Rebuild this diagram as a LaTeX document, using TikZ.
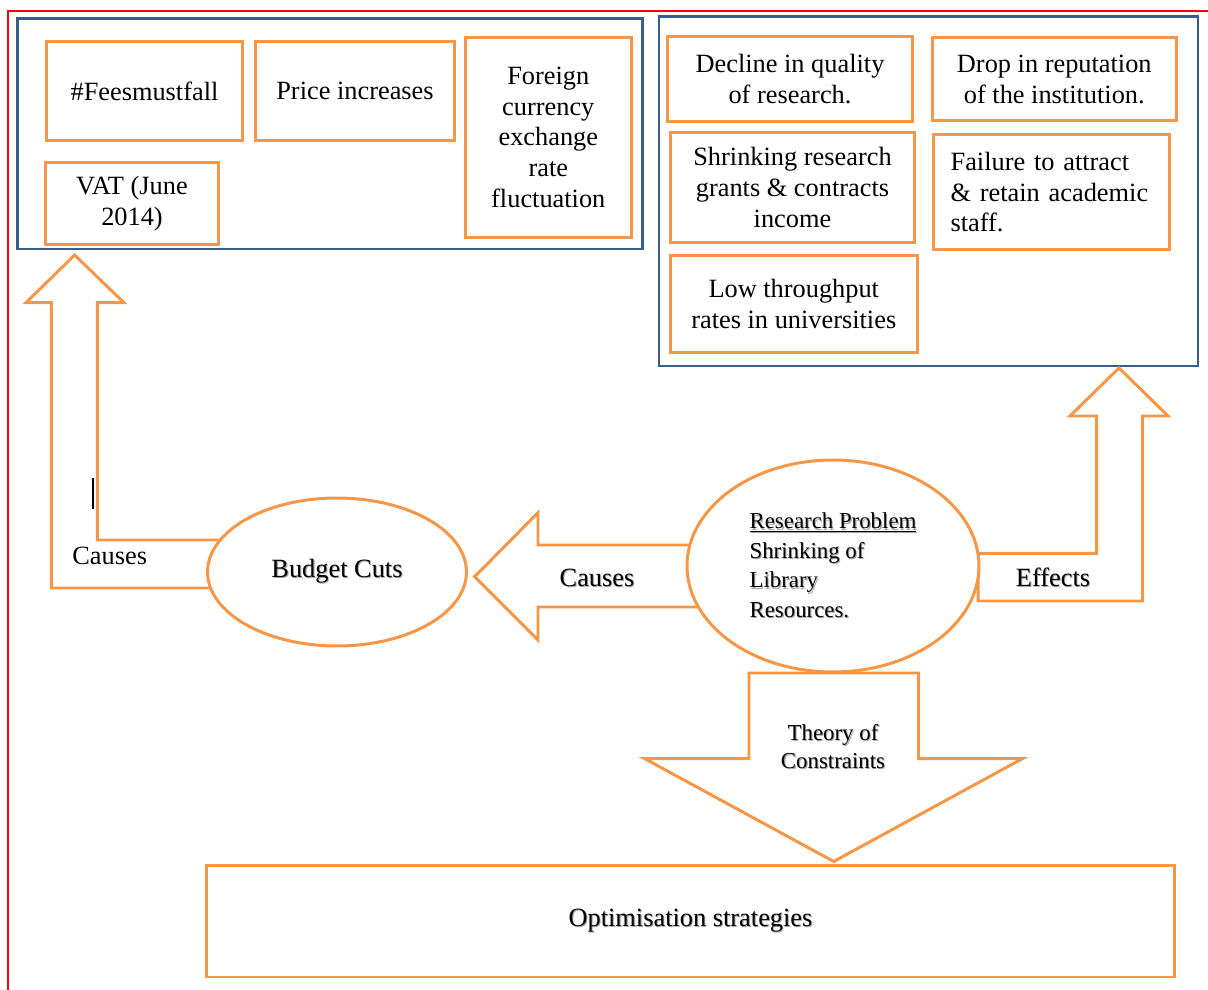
\documentclass[tikz,border=0pt]{standalone}
\usepackage{fontspec}
\setmainfont{Liberation Serif}
\usetikzlibrary{shapes.geometric}
\definecolor{boxorange}{HTML}{F79646}
\definecolor{frameblue}{HTML}{385D8A}
\newcommand\shadowtxt[1]{\makebox[0pt][l]{\raisebox{-0.6pt}{\hspace{0.6pt}\color{black!35}#1}}#1}
\begin{document}
\begin{tikzpicture}[x=0.02cm,y=-0.02cm,
	obox/.style={draw=boxorange,line width=1.7pt,fill=white,align=center,inner sep=0pt,font=\fontsize{15}{17.4}\selectfont},
	blueframe/.style={draw=frameblue,line width=1.6pt,inner sep=0pt},
	oval/.style={ellipse,draw=boxorange,line width=1.7pt,fill=white,inner sep=0pt},
	blockarrow/.style={draw=boxorange,line width=1.7pt,fill=white,line join=miter},
	lbl/.style={inner sep=0pt,font=\fontsize{15}{17.4}\selectfont}]
	    \useasboundingbox (0,0) rectangle (1208,990);
	    \draw[red,line width=1.1pt](8,990)--(8,11)--(1208,11);
	    % causes
	    \node[blueframe,minimum width=12.51cm,minimum height=4.61cm] (causesframe) at (330,133.7) {};
	    \node[obox,minimum width=3.92cm,minimum height=1.97cm] (fees) at (144.5,91) {\#Feesmustfall};
	    \node[obox,minimum width=4cm,minimum height=1.97cm] (price) at (355,91) {Price increases};
	    \node[obox,minimum width=3.31cm,minimum height=4cm] (forex) at (548.3,137.3) {Foreign\\currency\\exchange\\rate\\fluctuation};
	    \node[obox,minimum width=3.48cm,minimum height=1.63cm] (vat) at (132,203.5) {VAT (June\\2014)};
	    % effects
	    \node[blueframe,minimum width=10.78cm,minimum height=6.99cm] (effectsframe) at (928.5,191.3) {};
	    \node[obox,minimum width=4.92cm,minimum height=1.72cm] (decline) at (790,79) {Decline in quality\\of research.};
	    \node[obox,minimum width=4.89cm,minimum height=1.66cm] (drop) at (1054.3,79.2) {Drop in reputation\\of the institution.};
	    \node[obox,minimum width=4.9cm,minimum height=2.19cm] (grants) at (792.5,187.5) {Shrinking research\\grants \& contracts\\income};
	    \node[obox,align=left,text width=4.04cm,inner xsep=0.34cm,minimum height=2.31cm] (staff) at (1051.6,192.2) {Failure to attract\\\& retain academic\\staff.};
	    \node[obox,minimum width=4.95cm,minimum height=1.93cm] (throughput) at (793.8,304.2) {Low throughput\\rates in universities};
	    % block arrows
	    \draw[blockarrow](74.6,255)--(124,302.7)--(97.3,302.7)--(97.3,540)--(240,540)--(240,588)--(51.3,588)--(51.3,302.7)--(26,302.7)--cycle;
	    \draw[blockarrow](474.6,576.7)--(538,512.7)--(538,545)--(720,545)--(720,607)--(538,607)--(538,640)--cycle;
	    \draw[blockarrow](1119,368)--(1168,416)--(1142.7,416)--(1142.7,601)--(978,601)--(978,553.4)--(1096.7,553.4)--(1096.7,416)--(1070,416)--cycle;
	    \draw[blockarrow](749,673)--(918.6,673)--(918.6,758.6)--(1022.5,758.6)--(833.7,861.5)--(644.6,758.6)--(749,758.6)--cycle;
	    \draw[black,line width=0.9pt](93,478)--(93,509);
	    % centre
	    \node[oval,minimum width=5.18cm,minimum height=2.96cm,font=\fontsize{15}{17.4}\selectfont] (budget) at (337,572) {\shadowtxt{Budget Cuts}};
	    \node[oval,minimum width=5.84cm,minimum height=4.24cm,align=left,font=\fontsize{13}{16.8}\selectfont] (problem) at (833,566) {\shadowtxt{\underline{Research Problem}}\\\shadowtxt{Shrinking of}\\\shadowtxt{Library}\\\shadowtxt{Resources.}};
	    \node[lbl,anchor=west] (causesleft) at (72,556) {Causes};
	    \node[lbl] (causesmid) at (597,578) {\shadowtxt{Causes}};
	    \node[lbl] (effects) at (1053,578) {\shadowtxt{Effects}};
	    \node[lbl,align=center,font=\fontsize{13}{16.3}\selectfont] (theory) at (833,747) {\shadowtxt{Theory of}\\\shadowtxt{Constraints}};
	    \node[obox,minimum width=19.38cm,minimum height=2.24cm] (optim) at (690.5,921) {\shadowtxt{Optimisation strategies}};

	\end{tikzpicture}
\end{document}
